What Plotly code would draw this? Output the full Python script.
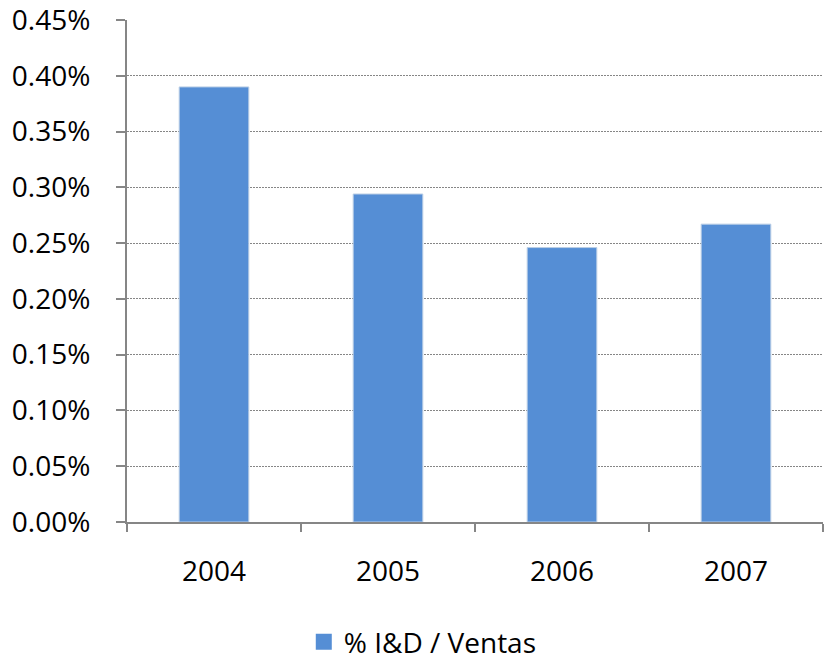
import plotly.graph_objects as go

years = ["2004", "2005", "2006", "2007"]
ratio_pct = [0.390, 0.294, 0.246, 0.267]  # % I&D / Ventas (percent values)
series_name = "% I&D / Ventas"
y_ticks = [0.00, 0.05, 0.10, 0.15, 0.20, 0.25, 0.30, 0.35, 0.40, 0.45]
y_tick_labels = [f"{v:.2f}%" for v in y_ticks]

bar_color = "#558ED5"
font = dict(family="Open Sans, Lato, sans-serif", size=28, color="#000000")

fig = go.Figure()
fig.add_trace(go.Bar(
    x=years, y=ratio_pct, name=series_name,
    marker=dict(color=bar_color, line=dict(color="#B9CDE5", width=1)),
    showlegend=False,
))
# legend entry with a square swatch
fig.add_trace(go.Scatter(
    x=[None], y=[None], mode="markers", name=series_name,
    marker=dict(symbol="square", size=18, color=bar_color),
    showlegend=True,
))

fig.update_layout(
    width=825, height=662,
    margin=dict(l=127, r=2, t=20, b=140),
    paper_bgcolor="white", plot_bgcolor="white",
    bargap=0.6,
    font=font,
    showlegend=True,
    legend=dict(orientation="h", x=0.254, xanchor="left",
                yref="container", y=0.03, yanchor="middle",
                font=font, itemwidth=30),
    xaxis=dict(
        type="category", showline=True, linecolor="#868686", linewidth=2,
        ticks="outside", ticklen=8, tickcolor="#868686", tickwidth=2,
        tickson="boundaries", showgrid=False, ticklabelstandoff=23,
        tickfont=font, automargin=False,
    ),
    yaxis=dict(
        range=[0, 0.45], tickvals=y_ticks, ticktext=y_tick_labels,
        showline=True, linecolor="#868686", linewidth=2,
        ticks="outside", ticklen=9, tickcolor="#868686", tickwidth=2,
        showgrid=True, gridcolor="#868686", griddash="2px,1px", gridwidth=1,
        zeroline=False, ticklabelstandoff=20, tickfont=font, automargin=False,
        ticklabeloverflow="allow",
    ),
)

fig.write_html("out.html", config={"displayModeBar": False},
               post_script="document.body.style.margin='0';")
